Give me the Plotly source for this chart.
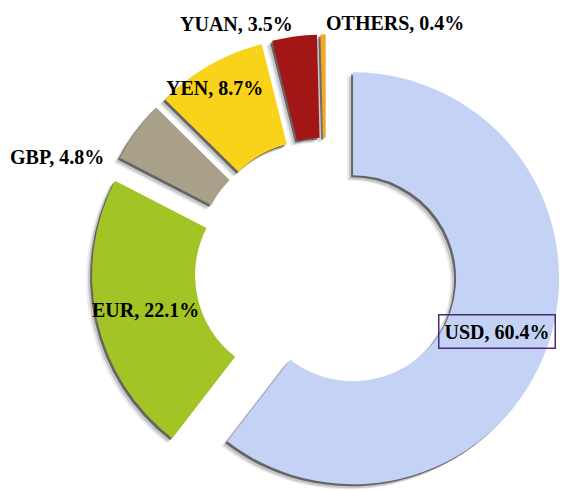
import numpy as np
import plotly.graph_objects as go

# Currency shares (%)
currencies = ["USD", "EUR", "GBP", "YEN", "YUAN", "OTHERS"]
shares = [60.4, 22.1, 4.8, 8.7, 3.5, 0.4]
colors = ["#c4d3f5", "#a3c425", "#a9a08a", "#f9d21a", "#a21616", "#f5a623"]

# Label anchor points (pixels) for the "NAME, x.x%" captions
label_px = [(497, 331), (145, 310), (57, 157), (214, 88), (236, 24), (395, 23)]

W, H = 564, 491
CX, CY = 326.0, 269.0      # donut centre in pixels
R = 206.0                  # outer radius in pixels
HOLE = 0.5
EXPLODE = 28.6             # how far each segment is pushed out, in pixels

vals = np.array(shares, dtype=float)
cum = np.cumsum(vals)
mid_deg = (cum - vals / 2) / vals.sum() * 360.0
mid = np.deg2rad(mid_deg)


def domain_for(cx, cy):
    x0 = max(0.0, (cx - R) / W)
    x1 = min(1.0, (cx + R) / W)
    y0 = max(0.0, 1 - (cy + R) / H)
    y1 = min(1.0, 1 - (cy - R) / H)
    return dict(x=[x0, x1], y=[y0, y1])


def segment_trace(i, color, dx=0.0, dy=0.0):
    cols = ["rgba(0,0,0,0)"] * len(vals)
    cols[i] = color
    cx = CX + EXPLODE * np.sin(mid[i]) + dx
    cy = CY - EXPLODE * np.cos(mid[i]) + dy
    return go.Pie(
        labels=currencies,
        values=shares,
        sort=False,
        direction="clockwise",
        rotation=0,
        hole=HOLE,
        textinfo="none",
        hoverinfo="skip" if color.startswith("rgba") else "label+percent",
        marker=dict(colors=cols, line=dict(width=0)),
        domain=domain_for(cx, cy),
        showlegend=False,
    )


fig = go.Figure()

# layered drop shadow (soft to dark), then the coloured segments on top
shadow_layers = [(-6, 5, "rgba(120,120,120,0.15)"),
                 (-4, 4, "rgba(90,90,90,0.25)"),
                 (-2, 2, "rgba(35,35,35,0.6)")]
for dx, dy, c in shadow_layers:
    for i in range(len(vals)):
        fig.add_trace(segment_trace(i, c, dx=dx, dy=dy))
for i in range(len(vals)):
    fig.add_trace(segment_trace(i, colors[i]))

annotations = []
for i, (name, v) in enumerate(zip(currencies, shares)):
    px, py = label_px[i]
    ann = dict(
        x=px / W, y=1 - py / H, xref="paper", yref="paper",
        text=f"{name}, {v:.1f}%", showarrow=False,
        xanchor="center", yanchor="middle",
        font=dict(family="Liberation Serif", size=20, color="#000000", weight="bold"),
    )
    if name == "USD":
        ann.update(bordercolor="#4b2a7a", borderwidth=1.5, borderpad=5)
    annotations.append(ann)

fig.update_layout(
    width=W, height=H,
    margin=dict(l=0, r=0, t=0, b=0),
    paper_bgcolor="white", plot_bgcolor="white",
    annotations=annotations,
)

fig.write_html("out.html")
